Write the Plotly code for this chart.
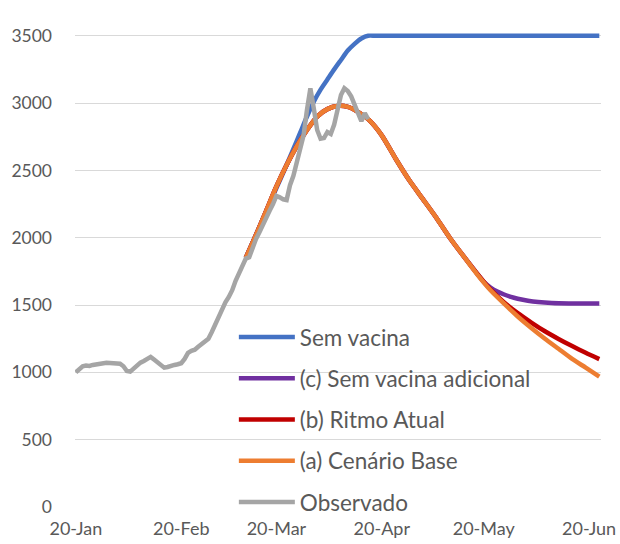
import plotly.graph_objects as go
import pandas as pd

START = "2021-01-20"

# Observed series: daily values from Jan 20 (day 0)
obs_values = [1000, 1025, 1045, 1050, 1048, 1055, 1060, 1068, 1074, 1072,
              1070, 1070, 1066, 1064, 1045, 1010, 1005, 1030, 1055, 1072,
              1085, 1100, 1115, 1095, 1075, 1055, 1035, 1040, 1050, 1055,
              1060, 1068, 1100, 1145, 1160, 1168, 1190, 1210, 1240, 1250,
              1300, 1360, 1410, 1460, 1520, 1560, 1610, 1680, 1740, 1800,
              1845, 1855, 1930, 1990, 2040, 2100, 2150, 2200, 2250, 2310,
              2300, 2285, 2280, 2390, 2460, 2560, 2640, 2760, 2950, 3110,
              2960, 2800, 2735, 2740, 2785, 2770, 2840, 2960, 3060, 3110,
              3090, 3050, 2990, 2930, 2865, 2925, 2880]

# Model scenarios: (day offset from Jan 20, value)
sem_vacina_days = [50, 52, 54, 56, 58, 60, 62, 64, 66, 68, 70, 72, 74, 76, 78, 80, 82, 84, 86,
                   88, 92, 100, 120, 140, 154]
sem_vacina_vals = [1850, 1965, 2080, 2195, 2310, 2425, 2540, 2660, 2780, 2900, 3010, 3100, 3175,
                   3250, 3320, 3390, 3440, 3480, 3500, 3500, 3500, 3500, 3500, 3500, 3500]

base_days = [50, 53, 56, 59, 62, 65, 68, 71, 74, 77, 80, 83, 86, 90, 94, 98, 102, 106, 110,
             114, 118, 122, 126, 130, 134, 138, 142, 146, 150, 154]
base_vals = [1850, 2020, 2200, 2380, 2540, 2680, 2800, 2900, 2955, 2978, 2972, 2935, 2880,
             2760, 2590, 2430, 2290, 2150, 2000, 1865, 1730, 1610, 1510, 1415, 1330, 1250,
             1175, 1100, 1035, 968]

ritmo_days = [50, 53, 56, 59, 62, 65, 68, 71, 74, 77, 80, 83, 86, 90, 94, 98, 102, 106, 110,
              114, 118, 122, 126, 130, 134, 138, 142, 146, 150, 154]
ritmo_vals = [1850, 2020, 2200, 2380, 2540, 2680, 2800, 2900, 2955, 2978, 2972, 2935, 2880,
              2760, 2590, 2430, 2290, 2150, 2000, 1865, 1735, 1615, 1520, 1440, 1370, 1305,
              1248, 1195, 1145, 1098]

adicional_days = [50, 53, 56, 59, 62, 65, 68, 71, 74, 77, 80, 83, 86, 90, 94, 98, 102, 106, 110,
                  114, 118, 120, 122, 124, 126, 128, 130, 133, 136, 140, 145, 150, 154]
adicional_vals = [1850, 2020, 2200, 2380, 2540, 2680, 2800, 2900, 2955, 2978, 2972, 2935, 2880,
                  2760, 2590, 2430, 2290, 2150, 2000, 1865, 1735, 1672, 1630, 1600, 1578, 1560,
                  1547, 1532, 1522, 1515, 1512, 1512, 1512]

tick_dates = ["2021-01-20", "2021-02-20", "2021-03-20", "2021-04-20", "2021-05-20", "2021-06-20"]
tick_labels = ["20-Jan", "20-Feb", "20-Mar", "20-Apr", "20-May", "20-Jun"]
y_ticks = [0, 500, 1000, 1500, 2000, 2500, 3000, 3500]

start = pd.Timestamp(START)


def to_dates(days):
    return [start + pd.Timedelta(days=d) for d in days]


obs_dates = to_dates(range(len(obs_values)))

FONT = "Lato"
TXT = "#595959"
LW = 4.5

fig = go.Figure()
series = [
    ("Sem vacina", sem_vacina_days, sem_vacina_vals, "#4472C4"),
    ("(c) Sem vacina adicional", adicional_days, adicional_vals, "#7030A0"),
    ("(b) Ritmo Atual", ritmo_days, ritmo_vals, "#C00000"),
    ("(a) Cenário Base", base_days, base_vals, "#ED7D31"),
]
for i, (name, days, vals, color) in enumerate(series):
    fig.add_trace(go.Scatter(
        x=to_dates(days), y=vals, name=name, mode="lines",
        line=dict(color=color, width=LW, shape="spline", smoothing=0.6),
        legendgroup=f"g{i}",
    ))
fig.add_trace(go.Scatter(
    x=obs_dates, y=obs_values, name="Observado", mode="lines",
    line=dict(color="#A5A5A5", width=LW),
    legendgroup="g9",
))

fig.update_layout(
    width=620, height=544,
    margin=dict(l=75, r=19, t=29, b=37, autoexpand=False),
    paper_bgcolor="white", plot_bgcolor="white",
    font=dict(family=FONT, color=TXT),
    showlegend=True,
    hovermode=False,
    legend=dict(
        x=0.302, y=0.400, xanchor="left", yanchor="top",
        bgcolor="rgba(0,0,0,0)",
        font=dict(family=FONT, size=22.5, color=TXT),
        tracegroupgap=9, itemwidth=56,
        traceorder="grouped",
    ),
)
fig.update_xaxes(
    type="date",
    range=["2021-01-19 18:00", "2021-06-23 12:00"],
    tickvals=tick_dates, ticktext=tick_labels,
    tickfont=dict(family=FONT, size=18, color=TXT),
    showgrid=False, zeroline=False, showline=False,
    ticks="", ticklabelstandoff=9, automargin=False,
)
fig.update_yaxes(
    range=[0, 3550],
    tickvals=y_ticks,
    tickfont=dict(family=FONT, size=17.5, color=TXT),
    showgrid=True, gridcolor="#D9D9D9", gridwidth=1.3,
    zeroline=False, showline=False,
    ticks="", ticklabelstandoff=22, automargin=False,
)

fig.write_html(
    "out.html",
    config={"displayModeBar": False},
    post_script="document.body.style.margin='0';document.body.style.overflow='hidden';",
)
